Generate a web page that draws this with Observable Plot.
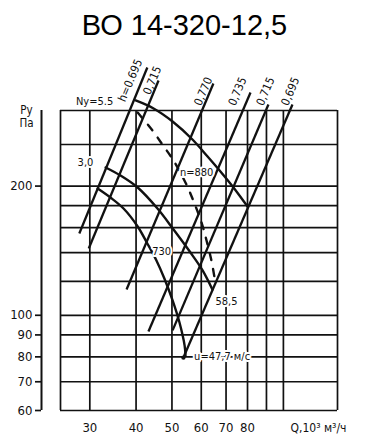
<!DOCTYPE html>
<html><head><meta charset="utf-8">
<script src="https://cdn.jsdelivr.net/npm/d3@7"></script>
<script src="https://cdn.jsdelivr.net/npm/@observablehq/plot@0.6"></script>
<style>
body{margin:0;background:#fff;}
#title{height:50px;line-height:50px;text-align:center;font-family:"Liberation Sans",Arial,sans-serif;font-size:29px;color:#000;padding-left:4px;white-space:nowrap;}
</style></head><body>
<div id="title">ВО 14-320-12,5</div>
<div id="chart"></div>
<script>
// grid and ticks
const xGrid = [25, 30, 40, 50, 60, 70, 80, 90, 100, 140];
const yGrid = [60, 70, 80, 90, 100, 120, 140, 160, 180, 200, 250, 300];
const xTickLabels = [30, 40, 50, 60, 70, 80];
const yTickLabels = [60, 70, 80, 90, 100, 200];

// efficiency lines (lower end Q1,P1 -> upper end Q2,P2)
const etaNames = ["h=0.695", "0,715", "0,770", "0,735", "0,715", "0,695"];
const etaQ1 = [28.1, 29.8, 37.7, 43.2, 50.2, 53.7];
const etaP1 = [155.1, 143.1, 114.8, 91.7, 92.2, 79.7];
const etaQ2 = [42.9, 46.0, 64.7, 81.5, 91.1, 105.8];
const etaP2 = [377.9, 352.4, 346.8, 330.4, 309.8, 309.8];
const etaLabelQ = [38.6, 44.3, 60.8, 75.2, 89.5, 104.5];
const etaLabelP = [352.4, 352.4, 332.2, 332.2, 332.2, 332.2];

// pressure curves
const c880Q = [39.9, 44.6, 50.2, 56.8, 62.4, 67.6, 73.3, 80.0];
const c880P = [316.6, 303.3, 282.8, 256.8, 234.4, 216.3, 198.5, 179.2];
const c730Q = [33.1, 36.3, 40.4, 45.7, 50.5, 56.1, 60.5, 64.3];
const c730P = [221.0, 211.7, 198.5, 177.3, 158.4, 140.0, 127.2, 114.8];
const cLowQ = [31.5, 34.1, 37.0, 40.4, 42.9, 45.4, 47.7, 50.2, 52.4, 54.1, 54.4];
const cLowP = [197.4, 188.1, 177.3, 161.0, 147.0, 134.2, 121.8, 108.3, 96.2, 85.0, 80.6];
// dashed curve
const dashQ = [40.4, 44.3, 47.1, 50.5, 54.7, 57.5, 60.1, 62.0, 63.9, 65.5];
const dashP = [296.8, 269.5, 250.0, 229.4, 201.7, 182.2, 164.5, 149.4, 134.2, 119.2];

// annotations
const annText = ["Ny=5.5", "3,0", "n=880", "730", "58,5", "u=47,7 м/с"];
const annQ = [30.9, 29.2, 58.3, 46.9, 70.2, 68.3];
const annP = [314.8, 226.4, 215.1, 140.8, 107.7, 80.2];

const FONT = '"Liberation Sans Narrow","DejaVu Sans Condensed","Liberation Sans",sans-serif';
const INK = "#111";

const chart = Plot.plot({
  width: 365, height: 398,
  marginLeft: 60, marginRight: 28, marginTop: 60, marginBottom: 38,
  x: {type: "log", domain: [25, 140], axis: null},
  y: {type: "log", domain: [60, 300], axis: null},
  style: {fontFamily: FONT, background: "white", overflow: "visible", color: INK},
  marks: [
    Plot.ruleX(xGrid, {stroke: INK, strokeWidth: 1.7}),
    Plot.ruleY(yGrid, {stroke: INK, strokeWidth: 1.7}),
    Plot.text(xTickLabels, {x: d => d, text: d => String(d), frameAnchor: "bottom", dy: 21, fontSize: 13, fill: INK}),
    Plot.axisY(yTickLabels, {anchor: "left", tickSize: 6, tickPadding: 3, dx: -19, fontSize: 13, tickFormat: d => String(d), label: null, strokeWidth: 1.7, stroke: INK, fill: INK}),
    Plot.ruleX([xGrid[0]], {y1: yGrid[0], y2: yGrid[yGrid.length - 1], dx: -19, stroke: INK, strokeWidth: 2}),
    Plot.link(etaNames, {
      x1: (d, i) => etaQ1[i], y1: (d, i) => etaP1[i],
      x2: (d, i) => etaQ2[i], y2: (d, i) => etaP2[i],
      stroke: INK, strokeWidth: 2.3
    }),
    Plot.line(c880Q, {x: d => d, y: (d, i) => c880P[i], curve: "catmull-rom", stroke: INK, strokeWidth: 2.4}),
    Plot.line(c730Q, {x: d => d, y: (d, i) => c730P[i], curve: "catmull-rom", stroke: INK, strokeWidth: 2.4}),
    Plot.line(cLowQ, {x: d => d, y: (d, i) => cLowP[i], curve: "catmull-rom", stroke: INK, strokeWidth: 2.4}),
    Plot.line(dashQ, {x: d => d, y: (d, i) => dashP[i], curve: "catmull-rom", stroke: INK, strokeWidth: 2.4, strokeDasharray: "7,9"}),
    Plot.dot([0], {x: () => etaQ1[5], y: () => etaP1[5], r: 2.2, fill: INK}),
    Plot.text(etaNames, {
      x: (d, i) => etaLabelQ[i], y: (d, i) => etaLabelP[i], text: d => d,
      rotate: -67, fontSize: 11.5, fill: INK
    }),
    Plot.text(annText, {
      x: (d, i) => annQ[i], y: (d, i) => annP[i], text: d => d,
      fontSize: 11, fill: INK, stroke: "white", strokeWidth: 4, paintOrder: "stroke"
    }),
    Plot.text(["Q,10³ м³/ч"], {frameAnchor: "bottom-right", dx: -19, dy: 21, textAnchor: "middle", fontSize: 12, fill: INK}),
    Plot.text(["Ру"], {frameAnchor: "top-left", dx: -34, dy: -5, textAnchor: "middle", fontSize: 11.5, fill: INK}),
    Plot.text(["Па"], {frameAnchor: "top-left", dx: -34, dy: 8, textAnchor: "middle", fontSize: 11.5, fill: INK})
  ]
});
document.getElementById("chart").appendChild(chart);
</script>
</body></html>
